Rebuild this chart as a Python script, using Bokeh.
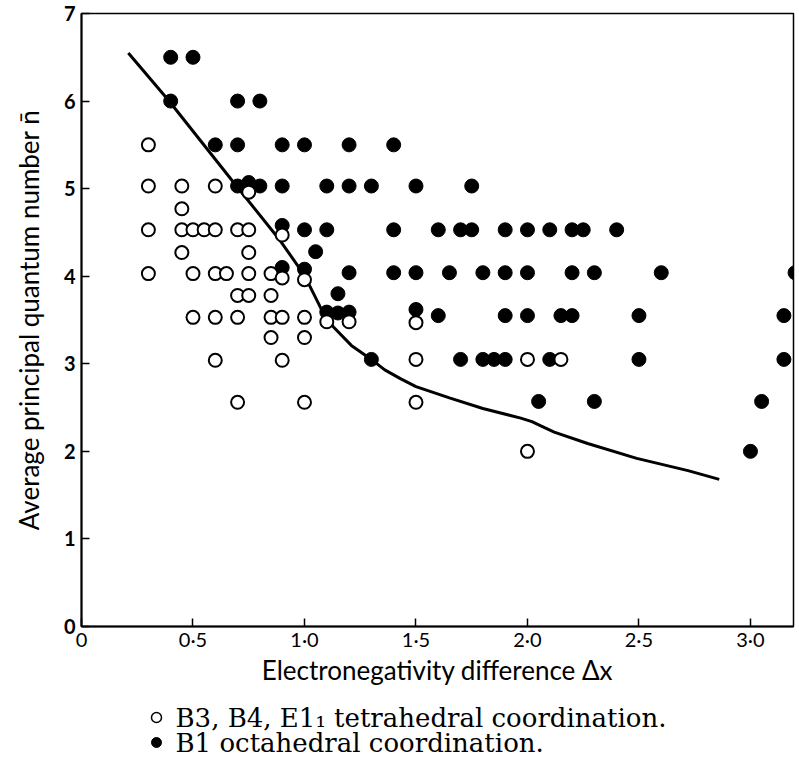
from bokeh.plotting import figure
from bokeh.models import Range1d, FixedTicker
from bokeh.layouts import column
from bokeh.core.properties import value
from bokeh.embed import file_html
from bokeh.resources import INLINE

# B1 octahedral coordination (filled circles)
filled_x = [0.4, 0.5,
            0.4, 0.7, 0.8,
            0.6, 0.7, 0.9, 1.0, 1.2, 1.4,
            0.7, 0.75, 0.8, 0.9, 1.1, 1.2, 1.3, 1.5, 1.75,
            0.9,
            1.0, 1.1, 1.4, 1.6, 1.7, 1.75, 1.9, 2.0, 2.1, 2.2, 2.25, 2.4,
            1.05,
            0.9, 1.0,
            1.2, 1.4, 1.5, 1.65, 1.8, 1.9, 2.0, 2.2, 2.3, 2.6, 3.2,
            1.15,
            1.1, 1.15, 1.2, 1.5,
            1.6, 1.9, 2.0, 2.15, 2.2, 2.5, 3.15,
            1.3, 1.7, 1.8, 1.85, 1.9, 2.1, 2.5, 3.15,
            2.05, 2.3, 3.05,
            3.0]
filled_y = [6.5, 6.5,
            6.0, 6.0, 6.0,
            5.5, 5.5, 5.5, 5.5, 5.5, 5.5,
            5.03, 5.07, 5.03, 5.03, 5.03, 5.03, 5.03, 5.03, 5.03,
            4.58,
            4.53, 4.53, 4.53, 4.53, 4.53, 4.53, 4.53, 4.53, 4.53, 4.53, 4.53, 4.53,
            4.28,
            4.1, 4.08,
            4.04, 4.04, 4.04, 4.04, 4.04, 4.04, 4.04, 4.04, 4.04, 4.04, 4.04,
            3.8,
            3.59, 3.58, 3.59, 3.62,
            3.55, 3.55, 3.55, 3.55, 3.55, 3.55, 3.55,
            3.05, 3.05, 3.05, 3.05, 3.05, 3.05, 3.05, 3.05,
            2.57, 2.57, 2.57,
            2.0]

# B3, B4, E1_1 tetrahedral coordination (open circles)
open_x = [0.3,
          0.3, 0.45, 0.6, 0.75,
          0.45,
          0.3, 0.45, 0.5, 0.55, 0.6, 0.7, 0.75, 0.9,
          0.45, 0.75,
          0.3, 0.5, 0.6, 0.65, 0.75, 0.85, 0.9, 1.0,
          0.7, 0.75, 0.85,
          0.5, 0.6, 0.7, 0.85, 0.9, 1.0, 1.1, 1.2, 1.5,
          0.85, 1.0,
          0.6, 0.9, 1.5, 2.0, 2.15,
          0.7, 1.0, 1.5,
          2.0]
open_y = [5.5,
          5.03, 5.03, 5.03, 4.96,
          4.77,
          4.53, 4.53, 4.53, 4.53, 4.53, 4.53, 4.53, 4.47,
          4.27, 4.27,
          4.03, 4.03, 4.03, 4.03, 4.03, 4.03, 3.98, 3.96,
          3.78, 3.78, 3.78,
          3.53, 3.53, 3.53, 3.53, 3.53, 3.53, 3.48, 3.48, 3.47,
          3.3, 3.3,
          3.04, 3.04, 3.05, 3.05, 3.05,
          2.56, 2.56, 2.56,
          2.0]

# Boundary curve
curve_x = [0.21, 0.39, 0.67, 0.89, 1.0, 1.09, 1.13, 1.21, 1.3, 1.36, 1.43, 1.5,
           1.65, 1.8, 1.97, 2.02, 2.06, 2.12, 2.27, 2.49, 2.72, 2.86]
curve_y = [6.55, 6.01, 5.11, 4.41, 4.01, 3.55, 3.42, 3.21, 3.05, 2.93, 2.83, 2.74,
           2.61, 2.49, 2.38, 2.34, 2.29, 2.22, 2.09, 1.92, 1.78, 1.68]

x_ticks = [0, 0.5, 1.0, 1.5, 2.0, 2.5, 3.0]
x_tick_labels = ["0", "0·5", "1·0", "1·5", "2·0", "2·5", "3·0"]
y_ticks = [0, 1, 2, 3, 4, 5, 6, 7]

legend_labels = ["B3, B4, E1\u2081 tetrahedral coordination.",
                 "B1 octahedral coordination."]

p = figure(width=798, height=689, output_backend="svg", toolbar_location=None,
           x_range=Range1d(0, 3.193), y_range=Range1d(0, 7),
           min_border_left=81, min_border_right=5, min_border_top=13,
           min_border_bottom=63)
p.xgrid.visible = False
p.ygrid.visible = False
p.outline_line_color = "black"
p.outline_line_width = 1.5

p.line(curve_x, curve_y, line_color="black", line_width=3)
p.scatter(filled_x, filled_y, size=14, marker="circle",
          fill_color="black", line_color="black", line_width=1)
p.scatter(open_x, open_y, size=13, marker="circle",
          fill_color="white", line_color="black", line_width=2)

for ax in (p.xaxis[0], p.yaxis[0]):
    ax.axis_line_width = 2
    ax.axis_line_color = "black"
    ax.major_tick_in = 8
    ax.major_tick_out = 0
    ax.major_tick_line_width = 1.5
    ax.minor_tick_line_color = None
    ax.major_label_text_font = "Lato"
    ax.major_label_text_font_size = "20px"
    ax.major_label_text_color = "black"
    ax.axis_label_text_font = "Lato"
    ax.axis_label_text_font_size = "26px"
    ax.axis_label_text_font_style = "normal"
    ax.axis_label_text_color = "black"

p.xaxis[0].ticker = FixedTicker(ticks=x_ticks)
p.xaxis[0].major_label_overrides = {t: l for t, l in zip(x_ticks, x_tick_labels)}
p.xaxis[0].axis_label = "Electronegativity difference Δx"
p.xaxis[0].major_label_standoff = 0
p.xaxis[0].axis_label_standoff = 0

p.yaxis[0].ticker = FixedTicker(ticks=y_ticks)
p.yaxis[0].axis_label = "Average principal quantum number n\u0304"
p.yaxis[0].major_label_standoff = 6
p.yaxis[0].axis_label_standoff = 16
p.yaxis[0].major_label_text_font_style = "bold"

# Key below the chart (its frame is aligned with the chart frame: 81..793 px)
leg = figure(width=798, height=72, output_backend="svg", toolbar_location=None,
             x_range=Range1d(81, 793), y_range=Range1d(0, 72),
             x_axis_location=None, y_axis_location=None,
             min_border=0, outline_line_color=None)
leg.xgrid.visible = False
leg.ygrid.visible = False
leg.scatter([156], [44], size=10, marker="circle", fill_color="white",
            line_color="black", line_width=1.5)
leg.scatter([156], [19], size=10, marker="circle", fill_color="black",
            line_color="black")
leg.text([175, 175], [44, 19], text=legend_labels, text_font=value("DejaVu Serif"),
         text_font_size=value("26px"), text_baseline="middle", text_align="left",
         text_color="black")

open("out.html", "w").write(file_html(column(p, leg), INLINE))
